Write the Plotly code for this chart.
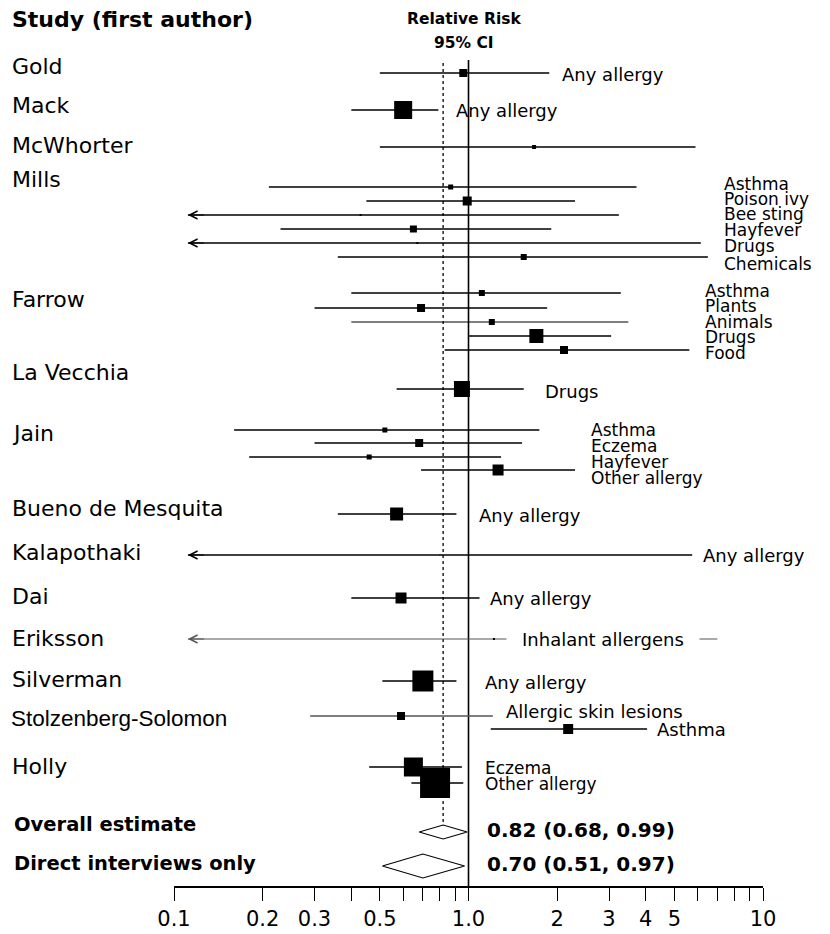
import math
import plotly.graph_objects as go

# ---------------- DATA ----------------
studies = ["Gold", "Mack", "McWhorter", "Mills", "Farrow", "La Vecchia", "Jain",
           "Bueno de Mesquita", "Kalapothaki", "Dai", "Eriksson", "Silverman",
           "Stolzenberg-Solomon", "Holly"]

est_study = ["Gold", "Mack", "McWhorter",
             "Mills", "Mills", "Mills", "Mills", "Mills", "Mills",
             "Farrow", "Farrow", "Farrow", "Farrow", "Farrow",
             "La Vecchia",
             "Jain", "Jain", "Jain", "Jain",
             "Bueno de Mesquita", "Kalapothaki", "Dai", "Eriksson", "Silverman",
             "Stolzenberg-Solomon", "Stolzenberg-Solomon",
             "Holly", "Holly"]
est_outcome = ["Any allergy", "Any allergy", "",
               "Asthma", "Poison ivy", "Bee sting", "Hayfever", "Drugs", "Chemicals",
               "Asthma", "Plants", "Animals", "Drugs", "Food",
               "Drugs",
               "Asthma", "Eczema", "Hayfever", "Other allergy",
               "Any allergy", "Any allergy", "Any allergy", "Inhalant allergens", "Any allergy",
               "Allergic skin lesions", "Asthma",
               "Eczema", "Other allergy"]
est_rr = [0.96, 0.60, 1.67,
          0.87, 0.99, 0.43, 0.65, 0.67, 1.54,
          1.11, 0.69, 1.20, 1.70, 2.11,
          0.95,
          0.52, 0.68, 0.46, 1.26,
          0.57, 0.80, 0.59, 1.22, 0.70,
          0.59, 2.18,
          0.65, 0.77]
est_lo = [0.50, 0.40, 0.50,
          0.21, 0.45, 0.05, 0.23, 0.05, 0.36,
          0.40, 0.30, 0.40, 1.00, 0.83,
          0.57,
          0.16, 0.30, 0.18, 0.69,
          0.36, 0.05, 0.40, 0.05, 0.51,
          0.29, 1.19,
          0.46, 0.64]
est_hi = [1.88, 0.79, 5.90,
          3.72, 2.30, 3.24, 1.91, 6.15, 6.50,
          3.29, 1.85, 3.49, 3.05, 5.62,
          1.54,
          1.74, 1.52, 1.29, 2.30,
          0.91, 5.75, 1.09, 7.00, 0.91,
          1.21, 4.04,
          0.95, 0.96]
est_weight = [8, 18, 4,
              5, 9, 2, 7, 2, 6,
              6, 8, 6, 14, 8,
              16,
              5, 8, 5, 11,
              13, 1, 11, 2, 21,
              8, 10,
              19, 30]

pooled_names = ["Overall estimate", "Direct interviews only"]
pooled_rr = [0.82, 0.70]
pooled_lo = [0.68, 0.51]
pooled_hi = [0.99, 0.97]

tick_vals = [0.1, 0.2, 0.3, 0.4, 0.5, 0.6, 0.7, 0.8, 0.9, 1.0,
             2, 3, 4, 5, 6, 7, 8, 9, 10]
tick_text = ["0.1", "0.2", "0.3", "", "0.5", "", "", "", "", "1.0",
             "2", "3", "4", "5", "", "", "", "", "10"]

# ---------------- LAYOUT (page pixel positions) ----------------
W, H = 830, 934
OFF = 8  # page body margin
study_label_y = [66, 105, 145, 179, 299, 372, 433, 508, 552, 596, 638, 679, 718, 766]
row_y = [73, 110, 147,
         187, 201, 215, 229, 243, 257,
         293, 308, 322, 336, 350,
         389,
         430, 443, 457, 470,
         514, 555, 598, 639, 681,
         716, 729,
         767, 783]
label_x = [562, 456, 0,
           724, 724, 724, 724, 724, 724,
           705, 705, 705, 705, 705,
           545,
           591, 591, 591, 591,
           479, 703, 490, 506, 485,
           506, 657,
           485, 485]
label_dy = [1, 0, 0,
            -3, -2, -1, 1, 3, 7,
            -2, -2, 0, 1, 3,
            2,
            0, 3, 5, 8,
            1, 0, 0, 0, 1,
            -5, 0,
            1, 1]
thin_rows = {"Animals_Farrow": 1.1, "Inhalant allergens_Eriksson": 1.2,
             "Allergic skin lesions_Stolzenberg-Solomon": 1.4}
gray_rows = {"Inhalant allergens_Eriksson", "Allergic skin lesions_Stolzenberg-Solomon"}
pooled_y = [832, 866]
pooled_half = [7, 12]
pooled_label_y = [824, 863]
axis_y = 887
x_left_px, x_right_px = 174, 763
arrow_tip = 0.1115


def px(p):
    return (p - OFF) / (W - OFF)


FONT = "DejaVu Sans, Verdana, sans-serif"

fig = go.Figure()

# reference lines
fig.add_trace(go.Scatter(x=[1, 1], y=[60, axis_y], mode="lines",
                         line=dict(color="black", width=1.6), hoverinfo="skip"))
fig.add_trace(go.Scatter(x=[pooled_rr[0], pooled_rr[0]], y=[63, pooled_y[0] - pooled_half[0]],
                         mode="lines", line=dict(color="black", width=1.3, dash="dot"),
                         hoverinfo="skip"))

annotations = []

# CI lines
for i in range(len(est_rr)):
    key = est_outcome[i] + "_" + est_study[i]
    lw = thin_rows.get(key, 1.6)
    col = "#555555" if key in gray_rows else "black"
    lo = est_lo[i]
    truncated = lo < tick_vals[0]
    x0 = arrow_tip if truncated else lo
    fig.add_trace(go.Scatter(x=[x0, est_hi[i]], y=[row_y[i], row_y[i]], mode="lines",
                             line=dict(color=col, width=lw), hoverinfo="skip"))
    if truncated:
        annotations.append(dict(x=math.log10(arrow_tip), y=row_y[i], xref="x", yref="y",
                                ax=math.log10(arrow_tip) + 0.06, ay=row_y[i],
                                axref="x", ayref="y", text="", showarrow=True,
                                arrowhead=5, arrowsize=1.3, arrowwidth=1.2,
                                arrowcolor=col, standoff=0))

# point estimates
fig.add_trace(go.Scatter(x=est_rr, y=row_y, mode="markers",
                         marker=dict(symbol="square", size=est_weight, color="black",
                                     opacity=1, line=dict(width=0)),
                         hoverinfo="skip"))

# pooled diamonds
for k in range(len(pooled_rr)):
    yc, h = pooled_y[k], pooled_half[k]
    fig.add_trace(go.Scatter(x=[pooled_lo[k], pooled_rr[k], pooled_hi[k], pooled_rr[k], pooled_lo[k]],
                             y=[yc, yc - h, yc, yc + h, yc], mode="lines", fill="toself",
                             fillcolor="white", line=dict(color="black", width=1.1),
                             hoverinfo="skip"))
    annotations.append(dict(x=px(12), y=pooled_label_y[k], xref="paper", yref="y",
                            text="<b>%s</b>" % pooled_names[k], showarrow=False,
                            xanchor="left", yanchor="middle",
                            font=dict(family=FONT, size=19.5, color="black")))
    annotations.append(dict(x=px(485), y=yc - 2, xref="paper", yref="y",
                            text="<b>%.2f (%.2f, %.2f)</b>" % (pooled_rr[k], pooled_lo[k], pooled_hi[k]),
                            showarrow=False, xanchor="left", yanchor="middle",
                            font=dict(family=FONT, size=20, color="black")))

# study labels
for s, yy in zip(studies, study_label_y):
    is_sz = s == "Stolzenberg-Solomon"
    fam = "Liberation Sans, Arial, sans-serif" if is_sz else FONT
    annotations.append(dict(x=px(9 if is_sz else 10), y=yy, xref="paper", yref="y", text=s,
                            showarrow=False, xanchor="left", yanchor="middle",
                            font=dict(family=fam, size=22.5 if is_sz else 22,
                                      color="black")))

# outcome labels
stacked = {"Mills", "Farrow", "Jain", "Holly"}
for i in range(len(est_rr)):
    if not est_outcome[i]:
        continue
    key = est_outcome[i] + "_" + est_study[i]
    gap = key == "Inhalant allergens_Eriksson"
    annotations.append(dict(x=px(label_x[i] if gap else label_x[i] - 2),
                            y=row_y[i] + label_dy[i], xref="paper", yref="y",
                            text=est_outcome[i], showarrow=False, xanchor="left",
                            yanchor="middle",
                            bgcolor="white" if gap else None,
                            borderpad=15 if gap else 1,
                            font=dict(family=FONT, size=17 if est_study[i] in stacked else 18,
                                      color="black")))

# headers
annotations.append(dict(x=px(10), y=19, xref="paper", yref="y",
                        text="<b>Study (first author)</b>", showarrow=False,
                        xanchor="left", yanchor="middle",
                        font=dict(family=FONT, size=22, color="black")))
annotations.append(dict(x=px(464), y=19, xref="paper", yref="y",
                        text="<b>Relative Risk</b>", showarrow=False,
                        xanchor="center", yanchor="middle",
                        font=dict(family=FONT, size=15.5, color="black")))
annotations.append(dict(x=px(464), y=43, xref="paper", yref="y",
                        text="<b>95% CI</b>", showarrow=False,
                        xanchor="center", yanchor="middle",
                        font=dict(family=FONT, size=15.5, color="black")))

fig.update_layout(
    width=W - OFF, height=H - OFF,
    margin=dict(l=0, r=0, t=0, b=0, pad=0, autoexpand=False),
    paper_bgcolor="white", plot_bgcolor="white",
    showlegend=False,
    annotations=annotations,
    xaxis=dict(type="log", domain=[px(x_left_px), px(x_right_px)],
               range=[math.log10(tick_vals[0]), math.log10(tick_vals[-1])],
               anchor="free", position=(H - axis_y) / (H - OFF),
               showline=True, linecolor="black", linewidth=1.5,
               ticks="outside", ticklen=13, tickwidth=1.3, tickcolor="black",
               tickvals=tick_vals, ticktext=tick_text, automargin=False,
               tickfont=dict(family=FONT, size=21, color="black"),
               showgrid=False, zeroline=False, fixedrange=True),
    yaxis=dict(range=[H, OFF], domain=[0, 1], visible=False, fixedrange=True,
               automargin=False),
)
fig.update_traces(cliponaxis=False)

fig.write_html("out.html")
